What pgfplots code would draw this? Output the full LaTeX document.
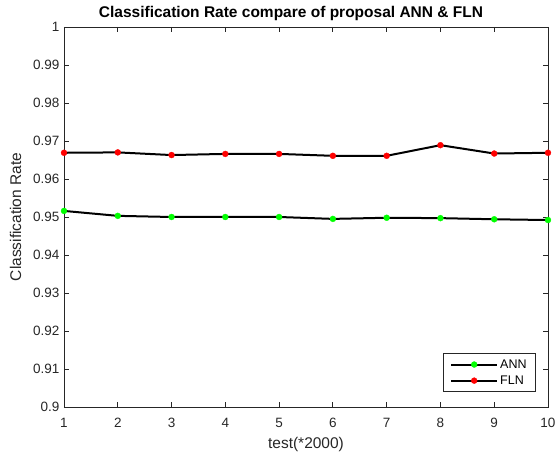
\documentclass[border=0pt]{standalone}
\usepackage{pgfplots}
\pgfplotsset{compat=1.18}
\usepackage{fontspec}
\setmainfont{Liberation Sans}
\definecolor{axgray}{gray}{0.15}
\begin{document}
\begin{tikzpicture}
\path[use as bounding box] (-64pt,-50pt) rectangle (491pt,407pt);
\begin{axis}[
  scale only axis,
  width=484pt, height=380pt,
  xmin=1, xmax=10, ymin=0.9, ymax=1,
  xtick={1,2,...,10},
  ytick={0.9,0.91,...,1.001},
  yticklabel style={/pgf/number format/fixed,/pgf/number format/precision=2, xshift=-1pt},
  xticklabel style={yshift=-8pt},
  /pgf/number format/assume math mode=true,
  tick align=inside,
  major tick length=5pt,
  axis line style={axgray, line width=0.9pt},
  every tick/.style={axgray, line width=0.9pt},
  tick label style={font=\fontsize{13.5}{15}\selectfont, text=axgray},
  title={\bfseries Classification Rate compare of proposal ANN \& FLN},
  title style={font=\fontsize{15.5}{17}\selectfont, yshift=-3pt, xshift=-15pt},
  xlabel={test(*2000)},
  ylabel={Classification Rate},
  label style={font=\fontsize{15.5}{17}\selectfont, text=axgray},
  xlabel style={yshift=-2pt},
  ylabel style={yshift=5pt},
  legend cell align=left,
  legend style={at={(0.975,0.0395)}, anchor=south east, draw=axgray, line width=0.6pt,
    font=\fontsize{12.5}{14}\selectfont, row sep=2pt, inner xsep=7pt, inner ysep=4pt},
  legend image code/.code={
    \draw[black, line width=2pt] (0pt,0pt) -- (46pt,0pt);
    \draw[#1, only marks] plot coordinates {(23pt,0pt)};
  },
]
\addplot[black, line width=2pt, mark=*, mark size=3pt, mark options={green, line width=0.3pt}]
  coordinates {(1,0.9516) (2,0.9503) (3,0.9500) (4,0.9500) (5,0.9500) (6,0.9495) (7,0.9498) (8,0.9497) (9,0.9494) (10,0.9492)};
\addlegendentry{ANN}
\addplot[black, line width=2pt, mark=*, mark size=3pt, mark options={red, line width=0.3pt}]
  coordinates {(1,0.9669) (2,0.9670) (3,0.9663) (4,0.9666) (5,0.9666) (6,0.9661) (7,0.9661) (8,0.9689) (9,0.9667) (10,0.9669)};
\addlegendentry{FLN}
\end{axis}
\end{tikzpicture}
\end{document}
